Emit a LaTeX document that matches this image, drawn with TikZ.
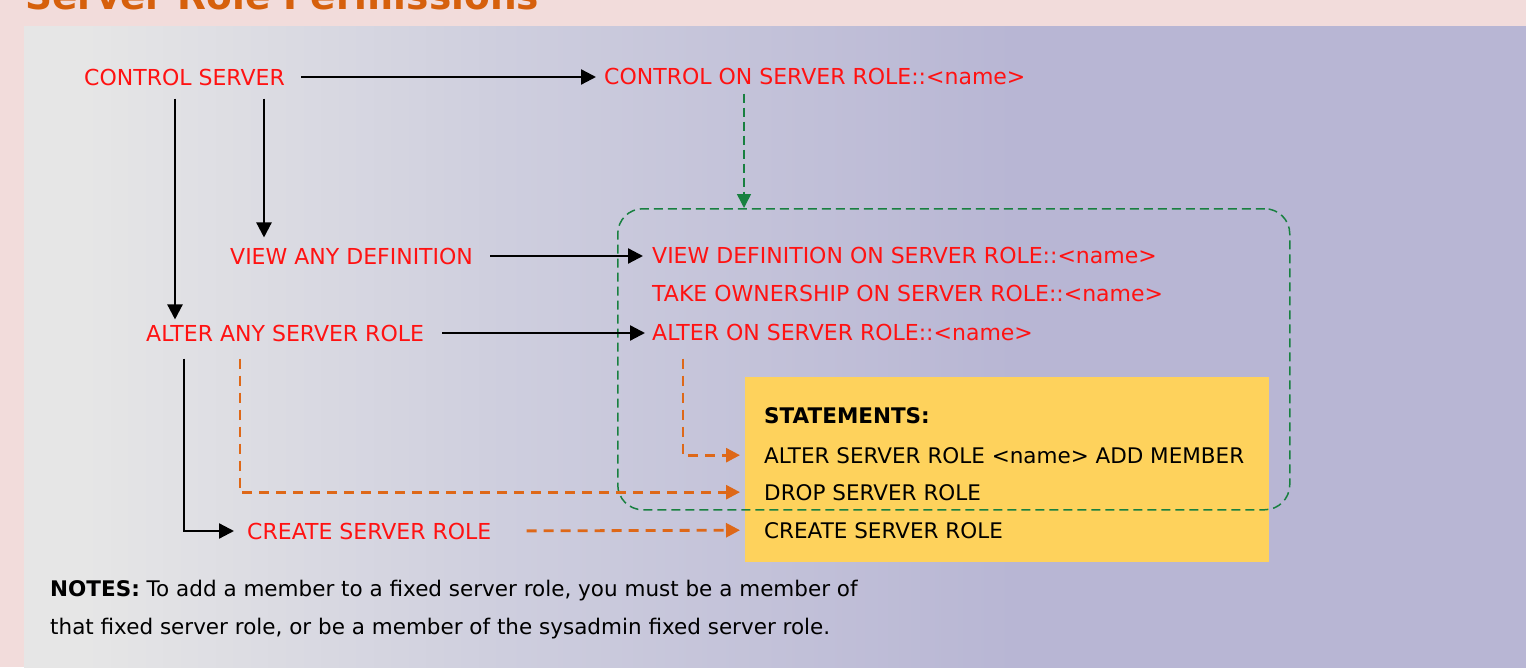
\documentclass[tikz,border=0pt]{standalone}
\usepackage{fontspec}
\setmainfont{DejaVu Sans}
\usetikzlibrary{arrows.meta,positioning,calc}
\definecolor{pagepink}{RGB}{242,220,219}
\definecolor{panelL}{RGB}{230,230,230}
\definecolor{panelM}{RGB}{206,206,222}
\definecolor{panelR}{RGB}{184,182,212}
\definecolor{permred}{RGB}{255,18,18}
\definecolor{linkorange}{RGB}{222,104,24}
\definecolor{titleorange}{RGB}{214,96,12}
\definecolor{scopegreen}{RGB}{24,128,64}
\definecolor{stmtyellow}{RGB}{254,210,92}
\pgfdeclarehorizontalshading{panelshade}{100bp}{color(0bp)=(panelL); color(27bp)=(panelL); color(41bp)=(panelM); color(58bp)=(panelR); color(100bp)=(panelR)}

\begin{document}
\begin{tikzpicture}[x=1pt,y=-1pt,
  perm/.style={anchor=base west,inner sep=0pt,text=permred,font=\fontsize{22}{26}\selectfont},
  stmt/.style={anchor=base west,inner sep=0pt,text=black,font=\fontsize{21.5}{26}\selectfont},
  grant/.style={line width=2.3pt,-{Triangle[length=15pt,width=15pt]}},
  implied/.style={line width=2.8pt,linkorange,dash pattern=on 10pt off 7pt,-{Triangle[length=14pt,width=14pt]}},
  covers/.style={line width=1.5pt,scopegreen,dash pattern=on 9pt off 5pt}]
\useasboundingbox (0,0) rectangle (1526,667);
\fill[pagepink] (0,0) rectangle (1526,667);
\shade[shading=panelshade] (24,26) rectangle (1526,667);
\node[anchor=base west,inner sep=0pt,text=titleorange,font=\bfseries\fontsize{37.5}{40}\selectfont] (title) at (25,9) {Server Role Permissions};

\node[fill=stmtyellow,anchor=north west,inner sep=0pt,minimum width=524pt,minimum height=185pt] (stbox) at (745,377) {};
\node[draw,covers,rounded corners=25pt,anchor=north west,inner sep=0pt,minimum width=672pt,minimum height=301pt] (scope) at (617,208) {};

\node[perm] (cs) at (84,85) {CONTROL SERVER};
\node[perm] (cosr) at (604,84) {CONTROL ON SERVER ROLE::<name>};
\node[perm] (vad) at (230,264) {VIEW ANY DEFINITION};
\node[perm] (aasr) at (146,341) {ALTER ANY SERVER ROLE};
\node[perm] (crsr) at (247,539) {CREATE SERVER ROLE};
\node[perm] (vdef) at (652,263) {VIEW DEFINITION ON SERVER ROLE::<name>};
\node[perm] (take) at (652,301) {TAKE OWNERSHIP ON SERVER ROLE::<name>};
\node[perm] (aon) at (652,340) {ALTER ON SERVER ROLE::<name>};

\node[stmt] (sthead) at (764,423) {\textbf{STATEMENTS:}};
\node[stmt] (addm) at (764,463) {ALTER SERVER ROLE <name> ADD MEMBER};
\node[stmt] (drop) at (764,500) {DROP SERVER ROLE};
\node[stmt] (crst) at (764,538) {CREATE SERVER ROLE};

\node[stmt] (notes1) at (50,596) {\textbf{NOTES:} To add a member to a fixed server role, you must be a member of};
\node[stmt] (notes2) at (50,634) {that fixed server role, or be a member of the sysadmin fixed server role.};

\coordinate (csL) at ($(cs.south west)+(91,13)$);
\coordinate (csR) at ($(cs.south west)+(180,13)$);
\coordinate (aaL) at ($(aasr.south west)+(38,17)$);
\coordinate (aaR) at ($(aasr.south west)+(94,17)$);
\coordinate (aoL) at ($(aon.south west)+(31,18)$);
\coordinate (g0) at ($(cosr.south west)+(140,9)$);

\draw[grant,shorten <=16pt,shorten >=8pt] (cs.east) -- (cs.east -| cosr.west);
\draw[grant,shorten >=5pt] (csL) -- (csL |- aasr.north);
\draw[grant,shorten >=10pt] (csR) -- (csR |- vad.north);
\draw[grant,shorten <=17pt,shorten >=9pt] (vad.east) -- (vad.east -| vdef.west);
\draw[grant,shorten <=18pt,shorten >=7pt] (aasr.east) -- (aasr.east -| aon.west);
\draw[grant,shorten >=13pt] (aaL) |- (crsr.west);

\draw[implied,shorten >=5pt] (aaR) |- (drop.west -| stbox.west);
\draw[implied,shorten >=5pt] (aoL) |- (addm.west -| stbox.west);
\draw[implied,shorten <=35pt,shorten >=5pt] (crsr.east) -- (crst.west -| stbox.west);

\draw[covers,-{Triangle[length=14pt,width=14pt]}] (g0) -- (g0 |- scope.north);
\end{tikzpicture}
\end{document}
